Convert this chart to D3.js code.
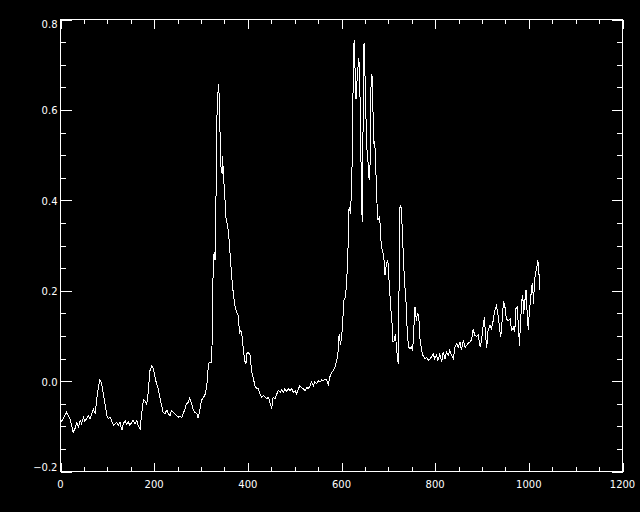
<!DOCTYPE html>
<html><head><meta charset="utf-8">
<script src="https://cdn.jsdelivr.net/npm/d3@7"></script>
<style>html,body{margin:0;padding:0;background:#000;}svg{display:block;}</style>
</head><body>
<script>
const xTicks = [0, 200, 400, 600, 800, 1000, 1200];
const yTicks = [-0.2, 0.0, 0.2, 0.4, 0.6, 0.8];
const xLabels = ["0", "200", "400", "600", "800", "1000", "1200"];
const yLabels = ["\u22120.2", "0.0", "0.2", "0.4", "0.6", "0.8"];
const xs = [1,6,13,17,20,24,27,31,35,38,42,45,49,52,56,59,63,67,70,74,77,81,84,88,91,95,99,102,106,109,113,116,120,123,127,131,134,138,141,145,148,152,155,159,163,166,170,173,177,180,184,187,191,195,198,202,205,209,212,216,219,223,227,230,234,237,241,244,248,251,255,259,262,266,269,273,276,280,284,287,291,294,298,301,305,308,312,316,319,323,326,328,330,332,333,335,337,339,341,343,345,346,348,351,353,356,359,362,365,369,373,376,380,382,385,387,390,393,396,397,401,405,408,412,415,419,422,426,430,433,437,440,444,447,451,454,458,462,465,469,472,476,479,483,486,490,494,497,501,504,508,511,515,518,522,526,529,533,536,540,543,547,550,554,558,561,565,568,572,575,579,582,586,590,593,595,598,600,602,605,608,611,614,615,617,619,622,624,626,627,629,631,634,637,639,641,643,644,646,647,649,651,653,655,657,659,661,663,665,667,669,671,673,675,678,681,683,685,688,691,693,696,699,702,705,708,710,713,715,718,720,721,723,725,727,730,732,735,738,740,743,746,749,752,755,757,760,762,765,767,771,774,778,782,785,789,792,796,799,803,806,810,814,817,821,824,828,831,835,839,842,846,849,853,856,860,864,867,871,874,878,881,885,888,892,896,899,903,905,908,910,913,917,920,924,927,931,935,938,940,943,946,949,952,956,960,963,967,970,972,975,978,980,982,985,987,989,991,993,994,997,999,1001,1004,1006,1008,1010,1012,1014,1017,1019,1021,1022,1023];
const ys = [-0.091,-0.083,-0.069,-0.076,-0.083,-0.098,-0.113,-0.105,-0.091,-0.102,-0.087,-0.094,-0.081,-0.089,-0.083,-0.076,-0.083,-0.072,-0.061,-0.072,-0.043,-0.014,0.003,-0.006,-0.025,-0.050,-0.076,-0.083,-0.080,-0.087,-0.098,-0.095,-0.091,-0.098,-0.091,-0.109,-0.095,-0.087,-0.095,-0.091,-0.098,-0.091,-0.087,-0.095,-0.087,-0.098,-0.106,-0.076,-0.041,-0.043,-0.052,-0.028,0.023,0.035,0.027,0.009,-0.006,-0.017,-0.036,-0.054,-0.069,-0.072,-0.064,-0.072,-0.076,-0.065,-0.069,-0.072,-0.076,-0.080,-0.078,-0.080,-0.072,-0.061,-0.050,-0.047,-0.037,-0.050,-0.065,-0.069,-0.072,-0.082,-0.061,-0.043,-0.036,-0.032,-0.015,0.038,0.042,0.042,0.252,0.285,0.267,0.400,0.562,0.606,0.658,0.629,0.533,0.466,0.459,0.499,0.455,0.407,0.363,0.348,0.326,0.282,0.238,0.193,0.164,0.153,0.145,0.105,0.112,0.105,0.075,0.046,0.038,0.060,0.064,0.057,0.023,0.005,-0.010,-0.017,-0.017,-0.028,-0.036,-0.032,-0.036,-0.039,-0.036,-0.047,-0.061,-0.036,-0.039,-0.028,-0.021,-0.025,-0.019,-0.025,-0.017,-0.023,-0.017,-0.021,-0.017,-0.025,-0.021,-0.028,-0.017,-0.010,-0.014,-0.017,-0.021,-0.014,-0.017,-0.010,-0.002,-0.010,-0.002,-0.006,0.001,-0.002,0.003,0.001,0.005,0.003,-0.008,0.009,0.020,0.023,0.031,0.046,0.068,0.105,0.079,0.097,0.119,0.178,0.186,0.215,0.296,0.378,0.385,0.370,0.437,0.599,0.732,0.754,0.688,0.625,0.680,0.714,0.673,0.511,0.437,0.352,0.555,0.743,0.747,0.629,0.555,0.496,0.481,0.444,0.481,0.651,0.680,0.606,0.525,0.529,0.481,0.407,0.356,0.363,0.341,0.296,0.289,0.267,0.234,0.260,0.267,0.215,0.164,0.127,0.086,0.090,0.105,0.068,0.049,0.038,0.215,0.389,0.385,0.333,0.274,0.215,0.171,0.119,0.075,0.072,0.075,0.068,0.127,0.164,0.134,0.149,0.145,0.097,0.068,0.057,0.049,0.053,0.046,0.049,0.053,0.060,0.049,0.057,0.046,0.060,0.042,0.064,0.049,0.064,0.057,0.068,0.057,0.049,0.075,0.083,0.075,0.086,0.068,0.090,0.075,0.079,0.084,0.086,0.092,0.114,0.101,0.099,0.103,0.075,0.090,0.127,0.141,0.097,0.074,0.112,0.123,0.116,0.134,0.156,0.167,0.141,0.112,0.097,0.134,0.178,0.164,0.138,0.134,0.138,0.112,0.119,0.108,0.160,0.164,0.119,0.077,0.127,0.178,0.190,0.149,0.171,0.193,0.202,0.138,0.112,0.156,0.182,0.212,0.215,0.171,0.219,0.238,0.252,0.267,0.252,0.230,0.201];

const W = 640, H = 512;
const L = 60.5, R = 622.5, T = 19.5, B = 471.5;
const svg = d3.select("body").append("svg").attr("width", W).attr("height", H)
  .style("background", "#000");
svg.append("rect").attr("width", W).attr("height", H).attr("fill", "#000");

const x = d3.scaleLinear().domain([0, 1200]).range([L, R]);
const y = d3.scaleLinear().domain([-0.2, 0.8]).range([B, T]);

const xMinor = d3.range(0, 1201, 50);
const yMinor = d3.range(-0.2, 0.8001, 0.05);
const xTL = 9, yTL = 11;
const fontStyle = s => s.attr("fill", "#fff").attr("font-family", "DejaVu Sans, sans-serif").attr("font-size", "10px");

function styleAxis(g) {
  g.select(".domain").remove();
  g.selectAll("line").attr("stroke", "#fff").attr("stroke-width", 1).attr("shape-rendering", "crispEdges");
  g.selectAll("text").remove();
}
// bottom
svg.append("g").attr("transform", `translate(0,${B})`)
  .call(d3.axisBottom(x).tickValues(xMinor).tickSize(-xTL / 2).tickFormat("")).call(styleAxis);
svg.append("g").attr("transform", `translate(0,${B})`)
  .call(d3.axisBottom(x).tickValues(xTicks).tickSize(-xTL).tickFormat("")).call(styleAxis);
// top
svg.append("g").attr("transform", `translate(0,${T})`)
  .call(d3.axisTop(x).tickValues(xMinor).tickSize(-xTL / 2).tickFormat("")).call(styleAxis);
svg.append("g").attr("transform", `translate(0,${T})`)
  .call(d3.axisTop(x).tickValues(xTicks).tickSize(-xTL).tickFormat("")).call(styleAxis);
// left
svg.append("g").attr("transform", `translate(${L},0)`)
  .call(d3.axisLeft(y).tickValues(yMinor).tickSize(-yTL / 2).tickFormat("")).call(styleAxis);
svg.append("g").attr("transform", `translate(${L},0)`)
  .call(d3.axisLeft(y).tickValues(yTicks).tickSize(-yTL).tickFormat("")).call(styleAxis);
// right
svg.append("g").attr("transform", `translate(${R},0)`)
  .call(d3.axisRight(y).tickValues(yMinor).tickSize(-yTL / 2).tickFormat("")).call(styleAxis);
svg.append("g").attr("transform", `translate(${R},0)`)
  .call(d3.axisRight(y).tickValues(yTicks).tickSize(-yTL).tickFormat("")).call(styleAxis);

// frame
svg.append("rect").attr("x", L).attr("y", T).attr("width", R - L).attr("height", B - T)
  .attr("fill", "none").attr("stroke", "#fff").attr("stroke-width", 1).attr("shape-rendering", "crispEdges");

// labels
svg.append("g").selectAll("text").data(xTicks).join("text")
  .attr("x", d => x(d)).attr("y", 487.5).attr("text-anchor", "middle")
  .text((d, i) => xLabels[i]).call(fontStyle);
svg.append("g").selectAll("text").data(yTicks).join("text")
  .attr("x", 57.5)
  .attr("y", d => Math.min(Math.max(y(d) + 4.5, T + 8), B - 0.5))
  .attr("text-anchor", "end")
  .text((d, i) => yLabels[i]).call(fontStyle);

// data line
const pts = xs.map((v, i) => [v, ys[i]]);
svg.append("path").datum(pts)
  .attr("d", d3.line().x(d => x(d[0])).y(d => y(d[1])))
  .attr("fill", "none").attr("stroke", "#fff").attr("stroke-width", 1)
  .attr("shape-rendering", "crispEdges");
</script>
</body></html>
